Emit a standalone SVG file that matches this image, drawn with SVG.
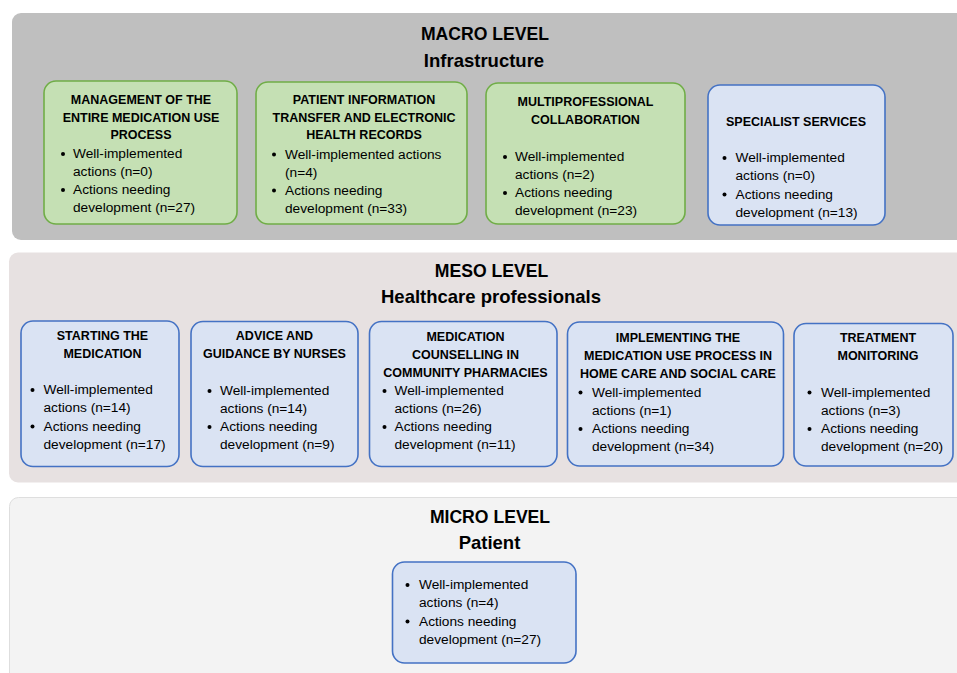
<svg xmlns="http://www.w3.org/2000/svg" width="957" height="673" viewBox="0 0 957 673">
<style>
.panel{stroke:none}
.g{fill:#c5e0b4;stroke:#70ad47;stroke-width:1.6}
.b{fill:#dae3f3;stroke:#4472c4;stroke-width:1.6}
.t{font-family:"Liberation Sans",Arial,sans-serif;font-weight:bold;font-size:18.5px;fill:#000;text-anchor:middle}
.tu{font-size:17.6px}
.h{font-family:"Liberation Sans",Arial,sans-serif;font-weight:bold;font-size:12.5px;fill:#000;text-anchor:middle}
.x{font-family:"Liberation Sans",Arial,sans-serif;font-size:13.7px;fill:#000}
.d{fill:#000}
</style>
<rect width="957" height="673" fill="#ffffff"/>
<g id="macro-level">
<rect class="panel" x="12" y="13" width="960" height="227" rx="9" fill="#bfbfbf"/>
<text class="t tu" x="485" y="40">MACRO LEVEL</text>
<text class="t" x="484" y="67">Infrastructure</text>
</g>
<g id="meso-level">
<rect class="panel" x="9" y="252.5" width="960" height="230" rx="9" fill="#e7e1e1"/>
<text class="t tu" x="491.5" y="277">MESO LEVEL</text>
<text class="t" x="491" y="303">Healthcare professionals</text>
</g>
<g id="micro-level">
<rect x="9.5" y="497.5" width="960" height="190" rx="9" fill="#f3f3f3" stroke="#dedede" stroke-width="1"/>
<text class="t tu" x="490" y="523">MICRO LEVEL</text>
<text class="t" x="489.5" y="549">Patient</text>
</g>
<g id="connectors"></g>
<g id="macro-management">
<rect class="g" x="44" y="81" width="193" height="143" rx="12"/>
<text class="h" x="141" y="104">MANAGEMENT OF THE</text>
<text class="h" x="141" y="121.5">ENTIRE MEDICATION USE</text>
<text class="h" x="141" y="139">PROCESS</text>
<circle class="d" cx="63" cy="154" r="2"/>
<text class="x" x="73" y="158">Well-implemented</text>
<text class="x" x="73" y="176">actions (n=0)</text>
<circle class="d" cx="63" cy="190" r="2"/>
<text class="x" x="73" y="194">Actions needing</text>
<text class="x" x="73" y="212">development (n=27)</text>
</g>
<g id="macro-patient-information">
<rect class="g" x="256" y="82" width="211" height="142" rx="12"/>
<text class="h" x="364" y="104">PATIENT INFORMATION</text>
<text class="h" x="364" y="121.5">TRANSFER AND ELECTRONIC</text>
<text class="h" x="364" y="139">HEALTH RECORDS</text>
<circle class="d" cx="274" cy="154.5" r="2"/>
<text class="x" x="285" y="158.5">Well-implemented actions</text>
<text class="x" x="285" y="176.5">(n=4)</text>
<circle class="d" cx="274" cy="190.5" r="2"/>
<text class="x" x="285" y="194.5">Actions needing</text>
<text class="x" x="285" y="212.5">development (n=33)</text>
</g>
<g id="macro-multiprofessional">
<rect class="g" x="486" y="83" width="199" height="141" rx="12"/>
<text class="h" x="585.5" y="106">MULTIPROFESSIONAL</text>
<text class="h" x="585.5" y="124">COLLABORATION</text>
<circle class="d" cx="505" cy="157" r="2"/>
<text class="x" x="515" y="161">Well-implemented</text>
<text class="x" x="515" y="179">actions (n=2)</text>
<circle class="d" cx="505" cy="193" r="2"/>
<text class="x" x="515" y="197">Actions needing</text>
<text class="x" x="515" y="215">development (n=23)</text>
</g>
<g id="macro-specialist">
<rect class="b" x="708" y="85" width="177" height="140" rx="12"/>
<text class="h" x="796" y="126">SPECIALIST SERVICES</text>
<circle class="d" cx="724.5" cy="158" r="2"/>
<text class="x" x="735.5" y="162">Well-implemented</text>
<text class="x" x="735.5" y="180">actions (n=0)</text>
<circle class="d" cx="724.5" cy="194.5" r="2"/>
<text class="x" x="735.5" y="198.5">Actions needing</text>
<text class="x" x="735.5" y="216.5">development (n=13)</text>
</g>
<g id="meso-starting">
<rect class="b" x="21" y="321" width="158" height="145.5" rx="12"/>
<text class="h" x="102.5" y="339.5">STARTING THE</text>
<text class="h" x="102.5" y="357.5">MEDICATION</text>
<circle class="d" cx="32.5" cy="390" r="2"/>
<text class="x" x="43.5" y="394">Well-implemented</text>
<text class="x" x="43.5" y="412">actions (n=14)</text>
<circle class="d" cx="32.5" cy="426.5" r="2"/>
<text class="x" x="43.5" y="430.5">Actions needing</text>
<text class="x" x="43.5" y="448.5">development (n=17)</text>
</g>
<g id="meso-advice">
<rect class="b" x="191" y="321.5" width="167" height="145" rx="12"/>
<text class="h" x="274.5" y="340">ADVICE AND</text>
<text class="h" x="274.5" y="358">GUIDANCE BY NURSES</text>
<circle class="d" cx="209.5" cy="391" r="2"/>
<text class="x" x="220" y="395">Well-implemented</text>
<text class="x" x="220" y="413">actions (n=14)</text>
<circle class="d" cx="209.5" cy="427" r="2"/>
<text class="x" x="220" y="431">Actions needing</text>
<text class="x" x="220" y="449">development (n=9)</text>
</g>
<g id="meso-counselling">
<rect class="b" x="369.5" y="321.5" width="187.5" height="145" rx="12"/>
<text class="h" x="465.5" y="341">MEDICATION</text>
<text class="h" x="465.5" y="358.5">COUNSELLING IN</text>
<text class="h" x="465.5" y="376.5">COMMUNITY PHARMACIES</text>
<circle class="d" cx="384.5" cy="391" r="2"/>
<text class="x" x="394.5" y="395">Well-implemented</text>
<text class="x" x="394.5" y="413">actions (n=26)</text>
<circle class="d" cx="384.5" cy="427" r="2"/>
<text class="x" x="394.5" y="431">Actions needing</text>
<text class="x" x="394.5" y="449">development (n=11)</text>
</g>
<g id="meso-implementing">
<rect class="b" x="567.5" y="322" width="216" height="144" rx="12"/>
<text class="h" x="678" y="341.5">IMPLEMENTING THE</text>
<text class="h" x="678" y="359.5">MEDICATION USE PROCESS IN</text>
<text class="h" x="678" y="377.5">HOME CARE AND SOCIAL CARE</text>
<circle class="d" cx="580.5" cy="392.5" r="2"/>
<text class="x" x="592" y="396.5">Well-implemented</text>
<text class="x" x="592" y="414.5">actions (n=1)</text>
<circle class="d" cx="580.5" cy="429" r="2"/>
<text class="x" x="592" y="433">Actions needing</text>
<text class="x" x="592" y="451">development (n=34)</text>
</g>
<g id="meso-monitoring">
<rect class="b" x="794" y="323.5" width="159" height="142.5" rx="12"/>
<text class="h" x="878" y="341.5">TREATMENT</text>
<text class="h" x="878" y="359.5">MONITORING</text>
<circle class="d" cx="809.5" cy="392.5" r="2"/>
<text class="x" x="821" y="396.5">Well-implemented</text>
<text class="x" x="821" y="414.5">actions (n=3)</text>
<circle class="d" cx="809.5" cy="429" r="2"/>
<text class="x" x="821" y="433">Actions needing</text>
<text class="x" x="821" y="451">development (n=20)</text>
</g>
<g id="micro-patient">
<rect class="b" x="392.5" y="562" width="183.5" height="101" rx="12"/>
<circle class="d" cx="407.5" cy="585" r="2"/>
<text class="x" x="419" y="589">Well-implemented</text>
<text class="x" x="419" y="607">actions (n=4)</text>
<circle class="d" cx="407.5" cy="621.5" r="2"/>
<text class="x" x="419" y="625.5">Actions needing</text>
<text class="x" x="419" y="643.5">development (n=27)</text>
</g>
</svg>
